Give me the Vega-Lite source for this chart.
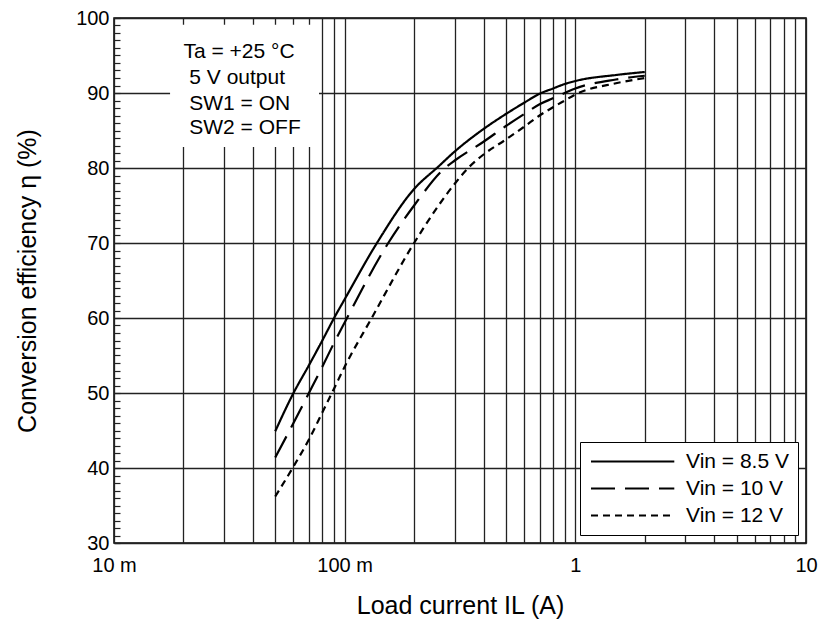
{
  "$schema": "https://vega.github.io/schema/vega-lite/v6.json",
  "width": 692,
  "height": 525,
  "autosize": "none",
  "padding": {"left": 114, "top": 18, "right": 18, "bottom": 77},
  "background": "white",
  "config": {
    "view": {"stroke": "black", "strokeWidth": 1.5},
    "font": "Liberation Sans",
    "axis": {"labelFont": "Liberation Sans", "titleFont": "Liberation Sans", "labelColor": "black", "titleColor": "black", "titleFontWeight": "normal", "domain": false}
  },
  "datasets": {
    "curves": [
      {"I": 0.05, "eff": 44.9, "series": "Vin = 8.5 V"},
      {"I": 0.06, "eff": 50.0, "series": "Vin = 8.5 V"},
      {"I": 0.07, "eff": 53.7, "series": "Vin = 8.5 V"},
      {"I": 0.08, "eff": 57.0, "series": "Vin = 8.5 V"},
      {"I": 0.09, "eff": 60.0, "series": "Vin = 8.5 V"},
      {"I": 0.1, "eff": 62.5, "series": "Vin = 8.5 V"},
      {"I": 0.138, "eff": 70.0, "series": "Vin = 8.5 V"},
      {"I": 0.2, "eff": 77.2, "series": "Vin = 8.5 V"},
      {"I": 0.255, "eff": 80.2, "series": "Vin = 8.5 V"},
      {"I": 0.3, "eff": 82.2, "series": "Vin = 8.5 V"},
      {"I": 0.4, "eff": 85.2, "series": "Vin = 8.5 V"},
      {"I": 0.5, "eff": 87.2, "series": "Vin = 8.5 V"},
      {"I": 0.6, "eff": 88.7, "series": "Vin = 8.5 V"},
      {"I": 0.7, "eff": 89.9, "series": "Vin = 8.5 V"},
      {"I": 0.8, "eff": 90.6, "series": "Vin = 8.5 V"},
      {"I": 0.9, "eff": 91.2, "series": "Vin = 8.5 V"},
      {"I": 1.0, "eff": 91.6, "series": "Vin = 8.5 V"},
      {"I": 1.5, "eff": 92.4, "series": "Vin = 8.5 V"},
      {"I": 2.0, "eff": 92.8, "series": "Vin = 8.5 V"},
      {"I": 0.05, "eff": 41.4, "series": "Vin = 10 V"},
      {"I": 0.06, "eff": 46.0, "series": "Vin = 10 V"},
      {"I": 0.07, "eff": 50.0, "series": "Vin = 10 V"},
      {"I": 0.08, "eff": 53.5, "series": "Vin = 10 V"},
      {"I": 0.09, "eff": 56.7, "series": "Vin = 10 V"},
      {"I": 0.1, "eff": 59.4, "series": "Vin = 10 V"},
      {"I": 0.1545, "eff": 70.0, "series": "Vin = 10 V"},
      {"I": 0.2, "eff": 75.0, "series": "Vin = 10 V"},
      {"I": 0.272, "eff": 80.0, "series": "Vin = 10 V"},
      {"I": 0.3, "eff": 81.0, "series": "Vin = 10 V"},
      {"I": 0.4, "eff": 83.5, "series": "Vin = 10 V"},
      {"I": 0.5, "eff": 85.6, "series": "Vin = 10 V"},
      {"I": 0.6, "eff": 87.2, "series": "Vin = 10 V"},
      {"I": 0.7, "eff": 88.5, "series": "Vin = 10 V"},
      {"I": 0.8, "eff": 89.3, "series": "Vin = 10 V"},
      {"I": 0.9, "eff": 90.0, "series": "Vin = 10 V"},
      {"I": 1.0, "eff": 90.6, "series": "Vin = 10 V"},
      {"I": 1.5, "eff": 91.8, "series": "Vin = 10 V"},
      {"I": 2.0, "eff": 92.3, "series": "Vin = 10 V"},
      {"I": 0.05, "eff": 36.2, "series": "Vin = 12 V"},
      {"I": 0.06, "eff": 40.2, "series": "Vin = 12 V"},
      {"I": 0.07, "eff": 43.8, "series": "Vin = 12 V"},
      {"I": 0.08, "eff": 47.4, "series": "Vin = 12 V"},
      {"I": 0.09, "eff": 50.6, "series": "Vin = 12 V"},
      {"I": 0.1, "eff": 53.5, "series": "Vin = 12 V"},
      {"I": 0.131, "eff": 60.0, "series": "Vin = 12 V"},
      {"I": 0.2, "eff": 70.0, "series": "Vin = 12 V"},
      {"I": 0.3, "eff": 77.9, "series": "Vin = 12 V"},
      {"I": 0.343, "eff": 80.0, "series": "Vin = 12 V"},
      {"I": 0.4, "eff": 81.8, "series": "Vin = 12 V"},
      {"I": 0.5, "eff": 83.8, "series": "Vin = 12 V"},
      {"I": 0.6, "eff": 85.5, "series": "Vin = 12 V"},
      {"I": 0.7, "eff": 87.0, "series": "Vin = 12 V"},
      {"I": 0.8, "eff": 88.1, "series": "Vin = 12 V"},
      {"I": 0.9, "eff": 89.0, "series": "Vin = 12 V"},
      {"I": 1.0, "eff": 89.8, "series": "Vin = 12 V"},
      {"I": 1.5, "eff": 91.3, "series": "Vin = 12 V"},
      {"I": 2.0, "eff": 92.0, "series": "Vin = 12 V"}
    ],
    "box": [{"x1": 0.0175, "x2": 0.0774, "y1": 99.1, "y2": 82.8}],
    "notes": [
      {"I": 0.02, "eff": 95.5, "text": "Ta = +25 °C"},
      {"I": 0.0212, "eff": 92.0, "text": "5 V output"},
      {"I": 0.0212, "eff": 88.5, "text": "SW1 = ON"},
      {"I": 0.0212, "eff": 85.4, "text": "SW2 = OFF"}
    ]
  },
  "layer": [
    {
      "data": {"name": "box"},
      "mark": {"type": "rect", "fill": "white", "stroke": null},
      "encoding": {
        "x": {"field": "x1", "type": "quantitative", "scale": {"type": "log", "domain": [0.01, 10], "nice": false}},
        "x2": {"field": "x2"},
        "y": {"field": "y1", "type": "quantitative", "scale": {"domain": [30, 100], "nice": false, "zero": false}},
        "y2": {"field": "y2"}
      }
    },
    {
      "data": {"name": "notes"},
      "mark": {"type": "text", "align": "left", "baseline": "middle", "fontSize": 21, "font": "Liberation Sans", "color": "black"},
      "encoding": {
        "x": {"field": "I", "type": "quantitative", "scale": {"type": "log", "domain": [0.01, 10], "nice": false}},
        "y": {"field": "eff", "type": "quantitative", "scale": {"domain": [30, 100], "nice": false, "zero": false}},
        "text": {"field": "text"}
      }
    },
    {
      "data": {"name": "curves"},
      "mark": {"type": "line", "color": "black", "strokeWidth": 2.2, "interpolate": "monotone"},
      "encoding": {
        "x": {
          "field": "I", "type": "quantitative",
          "scale": {"type": "log", "domain": [0.01, 10], "nice": false},
          "axis": {
            "title": "Load current IL (A)",
            "titleFontSize": 25,
            "titlePadding": 18,
            "tickCount": 100,
            "values": [0.01,0.02,0.03,0.04,0.05,0.06,0.07,0.08,0.09,0.1,0.2,0.3,0.4,0.5,0.6,0.7,0.8,0.9,1,2,3,4,5,6,7,8,9,10],
            "labelExpr": "datum.value === 0.01 ? '10 m' : datum.value === 0.1 ? '100 m' : datum.value === 1 ? '1' : datum.value === 10 ? '10' : ''",
            "labelFontSize": 20,
            "labelFlush": false,
            "labelOverlap": false,
            "labelPadding": 12,
            "ticks": false,
            "grid": true,
            "gridColor": "#222",
            "gridWidth": 1.3,
            "gridOpacity": 1
          }
        },
        "y": {
          "field": "eff", "type": "quantitative",
          "scale": {"domain": [30, 100], "nice": false, "zero": false},
          "axis": {
            "title": "Conversion efficiency η (%)",
            "titleFontSize": 25,
            "titlePadding": 35,
            "tickCount": 200,
            "format": "d",
            "values": [30,31,32,33,34,35,36,37,38,39,40,41,42,43,44,45,46,47,48,49,50,51,52,53,54,55,56,57,58,59,60,61,62,63,64,65,66,67,68,69,70,71,72,73,74,75,76,77,78,79,80,81,82,83,84,85,86,87,88,89,90,91,92,93,94,95,96,97,98,99,100],
            "labelExpr": "datum.value % 10 === 0 ? format(datum.value, 'd') : ''",
            "labelFontSize": 20,
            "labelOverlap": false,
            "labelPadding": 11,
            "ticks": true,
            "tickSize": -6,
            "tickColor": "#222",
            "tickWidth": 1.2,
            "grid": true,
            "gridColor": "#222",
            "gridWidth": 1.3,
            "gridOpacity": {"condition": {"test": "datum.value % 10 === 0", "value": 1}, "value": 0}
          }
        },
        "strokeDash": {
          "field": "series", "type": "nominal",
          "scale": {"domain": ["Vin = 8.5 V", "Vin = 10 V", "Vin = 12 V"], "range": [[1, 0], [24, 10], [7, 5]]},
          "legend": {
            "title": null,
            "orient": "bottom-right",
            "offset": 8,
            "fillColor": "white",
            "strokeColor": "black",
            "padding": 9,
            "symbolType": "M-1,0H8.8",
            "symbolSize": 289,
            "symbolStrokeWidth": 2.2,
            "symbolStrokeColor": "black",
            "labelFontSize": 21,
            "labelFont": "Liberation Sans",
            "labelColor": "black",
            "labelOffset": 76,
            "rowPadding": 5
          }
        }
      }
    }
  ]
}
